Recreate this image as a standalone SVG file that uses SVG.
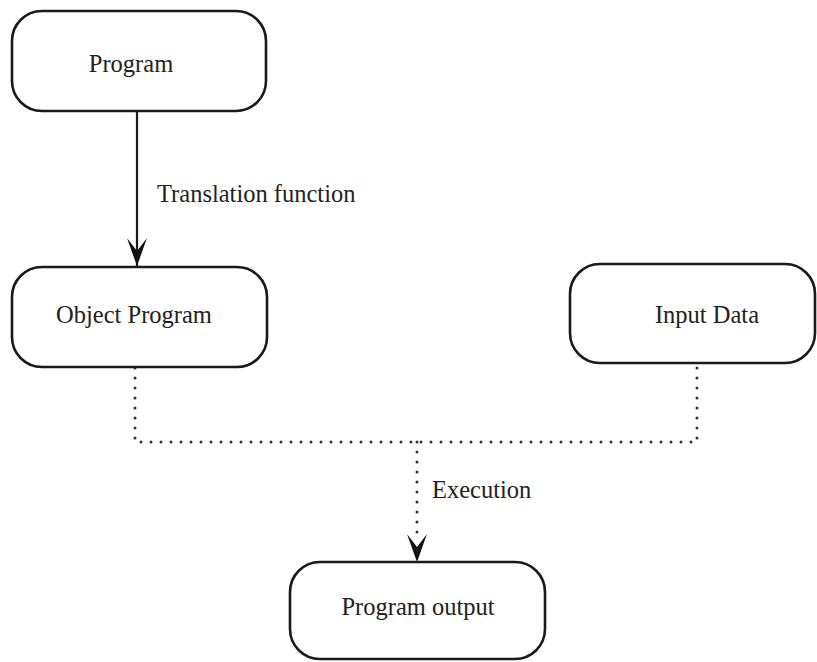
<svg xmlns="http://www.w3.org/2000/svg" width="817" height="662" viewBox="0 0 817 662">
  <style>
    .box { fill: #ffffff; stroke: #1a1a1a; stroke-width: 2.6; }
    .lbl { font-family: "Liberation Serif", "Times New Roman", serif; font-size: 24.5px; fill: #222222; }
    .solid { fill: none; stroke: #1a1a1a; stroke-width: 2.2; }
    .dotted { fill: none; stroke: #333333; stroke-width: 3; stroke-linecap: round; stroke-dasharray: 0 10; }
  </style>
  <defs>
    <marker id="arrow" viewBox="-28 -11 28 22" refX="0" refY="0" markerWidth="28" markerHeight="22" markerUnits="userSpaceOnUse" orient="auto">
      <path d="M0,0 L-28,-10 L-15,0 L-28,10 Z" fill="#111111"/>
    </marker>
  </defs>
  <rect width="817" height="662" fill="#ffffff"/>

  <g id="connectors">
    <line class="solid" x1="137" y1="111" x2="137" y2="266" marker-end="url(#arrow)"/>
    <path class="dotted" d="M135,368 V442 H697 V364"/>
    <line class="dotted" x1="417" y1="442" x2="417" y2="540"/>
    <line x1="417" y1="540" x2="417" y2="562" stroke="none" marker-end="url(#arrow)"/>
    <text class="lbl" x="157" y="202">Translation function</text>
    <text class="lbl" x="432" y="498">Execution</text>
  </g>

  <g id="program">
    <rect class="box" x="12" y="11" width="254" height="100" rx="30" ry="30"/>
    <text class="lbl" x="131" y="72" text-anchor="middle">Program</text>
  </g>

  <g id="object-program">
    <rect class="box" x="12" y="267" width="255" height="100" rx="30" ry="30"/>
    <text class="lbl" x="134" y="323" text-anchor="middle">Object Program</text>
  </g>

  <g id="input-data">
    <rect class="box" x="570" y="264" width="245" height="99" rx="30" ry="30"/>
    <text class="lbl" x="707" y="323" text-anchor="middle">Input Data</text>
  </g>

  <g id="program-output">
    <rect class="box" x="290" y="562" width="255" height="97" rx="30" ry="30"/>
    <text class="lbl" x="418" y="615" text-anchor="middle">Program output</text>
  </g>
</svg>
